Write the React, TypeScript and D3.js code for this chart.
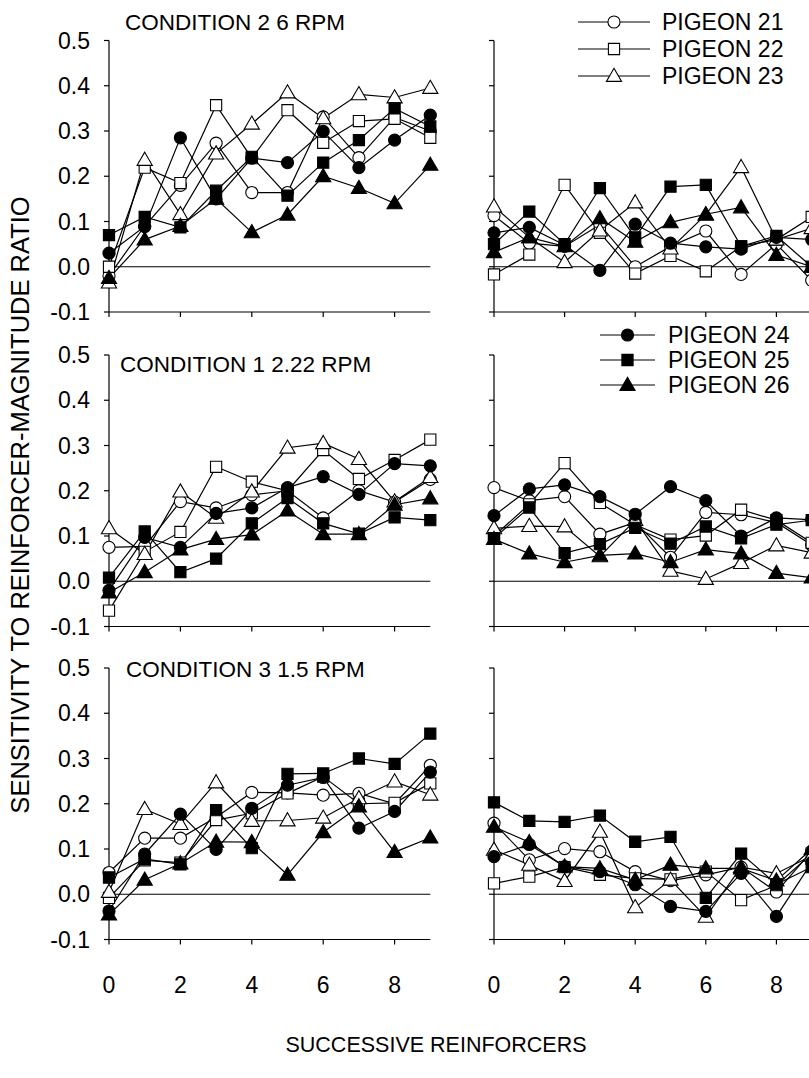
import React from "react";
import * as d3 from "d3";

// ---- data ----
const xValues = [0, 1, 2, 3, 4, 5, 6, 7, 8, 9];
const pigeons = ["PIGEON 21", "PIGEON 22", "PIGEON 23", "PIGEON 24", "PIGEON 25", "PIGEON 26"];
const yTicks = [0.5, 0.4, 0.3, 0.2, 0.1, 0.0, -0.1];
const yTickLabels = ["0.5", "0.4", "0.3", "0.2", "0.1", "0.0", "-0.1"];
const xTicks = [0, 2, 4, 6, 8];
const conditionTitles = ["CONDITION 2 6 RPM", "CONDITION 1 2.22 RPM", "CONDITION 3 1.5 RPM"];

// Condition 2 (6 RPM)
const c2Left = [
  [-0.02, 0.09, 0.18, 0.273, 0.164, 0.164, 0.331, 0.241, 0.33, 0.30],
  [0.0, 0.219, 0.185, 0.357, 0.24, 0.346, 0.274, 0.322, 0.327, 0.285],
  [-0.035, 0.236, 0.116, 0.25, 0.316, 0.385, 0.328, 0.381, 0.374, 0.395],
  [0.03, 0.089, 0.285, 0.15, 0.24, 0.23, 0.299, 0.219, 0.28, 0.335],
  [0.07, 0.11, 0.087, 0.168, 0.243, 0.157, 0.23, 0.28, 0.35, 0.31],
  [-0.025, 0.06, 0.09, 0.15, 0.076, 0.115, 0.2, 0.174, 0.14, 0.225],
];
const c2Right = [
  [0.113, 0.052, 0.045, 0.093, 0.0, 0.045, 0.079, -0.017, 0.05, -0.03],
  [-0.017, 0.027, 0.181, 0.075, -0.015, 0.024, -0.01, 0.045, 0.06, 0.11],
  [0.133, 0.065, 0.01, 0.08, 0.142, 0.04, 0.115, 0.22, 0.06, 0.085],
  [0.075, 0.087, 0.048, -0.008, 0.094, 0.052, 0.044, 0.039, 0.065, 0.06],
  [0.05, 0.122, 0.05, 0.174, 0.065, 0.177, 0.181, 0.045, 0.068, 0.0],
  [0.032, 0.065, 0.045, 0.107, 0.055, 0.098, 0.116, 0.131, 0.026, 0.0],
];
// Condition 1 (2.22 RPM)
const c1Left = [
  [0.075, 0.077, 0.176, 0.162, 0.191, 0.2, 0.14, 0.2, 0.175, 0.225],
  [-0.065, 0.065, 0.109, 0.253, 0.22, 0.2, 0.29, 0.226, 0.268, 0.313],
  [0.117, 0.06, 0.198, 0.14, 0.198, 0.295, 0.305, 0.27, 0.176, 0.23],
  [-0.02, 0.097, 0.075, 0.15, 0.162, 0.207, 0.231, 0.192, 0.26, 0.255],
  [0.008, 0.11, 0.02, 0.05, 0.128, 0.184, 0.128, 0.105, 0.141, 0.135],
  [-0.025, 0.02, 0.07, 0.093, 0.103, 0.156, 0.104, 0.104, 0.169, 0.183],
];
const c1Right = [
  [0.207, 0.178, 0.187, 0.104, 0.13, 0.053, 0.152, 0.147, 0.13, 0.08],
  [0.1, 0.17, 0.261, 0.173, 0.125, 0.092, 0.101, 0.158, 0.135, 0.085],
  [0.117, 0.122, 0.121, 0.055, 0.135, 0.023, 0.005, 0.04, 0.079, 0.063],
  [0.145, 0.204, 0.213, 0.187, 0.148, 0.209, 0.178, 0.1, 0.14, 0.136],
  [0.095, 0.163, 0.062, 0.082, 0.118, 0.083, 0.121, 0.095, 0.125, 0.135],
  [0.093, 0.061, 0.042, 0.057, 0.061, 0.042, 0.07, 0.061, 0.018, 0.008],
];
// Condition 3 (1.5 RPM)
const c3Left = [
  [0.048, 0.124, 0.124, 0.17, 0.225, 0.224, 0.219, 0.223, 0.2, 0.285],
  [-0.008, 0.075, 0.07, 0.164, 0.179, 0.223, 0.26, 0.2, 0.202, 0.245],
  [0.005, 0.188, 0.155, 0.247, 0.162, 0.163, 0.169, 0.212, 0.249, 0.22],
  [-0.037, 0.089, 0.177, 0.099, 0.19, 0.241, 0.258, 0.146, 0.183, 0.27],
  [0.037, 0.078, 0.066, 0.186, 0.102, 0.266, 0.267, 0.3, 0.288, 0.355],
  [-0.045, 0.032, 0.068, 0.116, 0.115, 0.043, 0.137, 0.194, 0.093, 0.125],
];
const c3Right = [
  [0.157, 0.076, 0.101, 0.094, 0.05, 0.03, 0.043, 0.06, 0.005, 0.095],
  [0.024, 0.039, 0.06, 0.043, 0.035, 0.033, 0.05, -0.013, 0.02, 0.09],
  [0.098, 0.065, 0.029, 0.138, -0.029, 0.032, -0.05, 0.06, 0.046, 0.085],
  [0.083, 0.11, 0.061, 0.05, 0.021, -0.027, -0.038, 0.046, -0.049, 0.07],
  [0.203, 0.162, 0.16, 0.174, 0.116, 0.127, -0.008, 0.09, 0.022, 0.06],
  [0.149, 0.115, 0.061, 0.057, 0.032, 0.065, 0.057, 0.057, 0.03, 0.1],
];

// ---- layout ----
const W = 809;
const H = 1078;
const FONT = "'Liberation Sans', Arial, Helvetica, sans-serif";
const FS_TICK = 23;
const FS_TITLE = 22.5;
const FS_LEGEND = 23;
const colX = [109, 494];
const colUnit = [35.7, 35.3];
const rowTop = [40.5, 355, 668];
const PANEL_H = 271.5;

const rows = [
  { left: c2Left, right: c2Right },
  { left: c1Left, right: c1Right },
  { left: c3Left, right: c3Right },
];
const titlePos = [
  { x: 125, y: 22 },
  { x: 120, y: 364 },
  { x: 126, y: 669 },
];

const markerShapes = [d3.symbolCircle, d3.symbolSquare, d3.symbolTriangle, d3.symbolCircle, d3.symbolSquare, d3.symbolTriangle];
const markerSizes = [115, 125, 100, 115, 125, 100];
const markerFilled = [false, false, false, true, true, true];

function Marker({ i, x, y }: { i: number; x: number; y: number }) {
  const p = d3.symbol().type(markerShapes[i]).size(markerSizes[i])() as string;
  const dy = markerShapes[i] === d3.symbolTriangle ? 1 : 0;
  return (
    <path
      d={p}
      transform={`translate(${x},${y + dy})`}
      fill={markerFilled[i] ? "#000" : "#fff"}
      stroke="#000"
      strokeWidth={1.1}
    />
  );
}

function Panel({ data, col, row }: { data: number[][]; col: number; row: number }) {
  const x0 = colX[col];
  const top = rowTop[row];
  const xs = d3.scaleLinear().domain([0, 9]).range([x0, x0 + 9 * colUnit[col]]);
  const ys = d3.scaleLinear().domain([-0.1, 0.5]).range([top + PANEL_H, top]);
  const line = d3
    .line<number>()
    .x((_, j) => xs(xValues[j]))
    .y((d) => ys(d));
  const xEnd = xs(9);
  return (
    <g>
      <line x1={x0} x2={x0} y1={ys(0.5)} y2={ys(-0.1)} stroke="#000" strokeWidth={1.2} />
      {yTicks.map((t, k) => (
        <g key={k}>
          <line x1={x0 - 5} x2={x0} y1={ys(t)} y2={ys(t)} stroke="#000" strokeWidth={1.2} />
          {col === 0 && (
            <text x={x0 - 19} y={ys(t)} textAnchor="end" dominantBaseline="central" fontSize={FS_TICK} fontFamily={FONT}>
              {yTickLabels[k]}
            </text>
          )}
        </g>
      ))}
      <line x1={x0} x2={xEnd} y1={ys(-0.1)} y2={ys(-0.1)} stroke="#000" strokeWidth={1.2} />
      {xTicks.map((t) => (
        <line key={t} x1={xs(t)} x2={xs(t)} y1={ys(-0.1)} y2={ys(-0.1) + 5} stroke="#000" strokeWidth={1.2} />
      ))}
      {row === 2 &&
        xTicks.map((t) => (
          <text key={"l" + t} x={xs(t)} y={ys(-0.1) + 45} textAnchor="middle" dominantBaseline="central" fontSize={FS_TICK} fontFamily={FONT}>
            {t}
          </text>
        ))}
      <line x1={x0} x2={xEnd} y1={ys(0)} y2={ys(0)} stroke="#000" strokeWidth={1.2} />
      {data.map((s, i) => (
        <path key={"p" + i} d={line(s) as string} fill="none" stroke="#000" strokeWidth={1.2} />
      ))}
      {data.map((s, i) =>
        s.map((v, j) => <Marker key={i + "-" + j} i={i} x={xs(xValues[j])} y={ys(v)} />)
      )}
    </g>
  );
}

function Legend({ x1, x2, tx, ys, start }: { x1: number; x2: number; tx: number; ys: number[]; start: number }) {
  return (
    <g>
      {ys.map((y, k) => {
        const i = start + k;
        return (
          <g key={i}>
            <line x1={x1} x2={x2} y1={y} y2={y} stroke="#000" strokeWidth={1.2} />
            <Marker i={i} x={(x1 + x2) / 2} y={y} />
            <text x={tx} y={y} dominantBaseline="central" fontSize={FS_LEGEND} fontFamily={FONT}>
              {pigeons[i]}
            </text>
          </g>
        );
      })}
    </g>
  );
}

export default function App() {
  return (
    <div style={{ position: "absolute", left: 0, top: 0 }}>
      <svg width={W} height={H} viewBox={`0 0 ${W} ${H}`} style={{ display: "block", background: "#fff" }}>
        <rect width={W} height={H} fill="#fff" />
        {rows.map((r, k) => (
          <g key={k}>
            <Panel data={r.left} col={0} row={k} />
            <Panel data={r.right} col={1} row={k} />
            <text x={titlePos[k].x} y={titlePos[k].y} dominantBaseline="central" fontSize={FS_TITLE} fontFamily={FONT}>
              {conditionTitles[k]}
            </text>
          </g>
        ))}
        <Legend x1={578} x2={650} tx={662} ys={[22, 49, 76]} start={0} />
        <Legend x1={600} x2={655} tx={668} ys={[335, 360, 385]} start={3} />
        <text
          transform={`translate(20,505) rotate(-90)`}
          textAnchor="middle"
          dominantBaseline="central"
          fontSize={25.5}
          fontFamily={FONT}
        >
          SENSITIVITY TO REINFORCER-MAGNITUDE RATIO
        </text>
        <text x={436} y={1045} textAnchor="middle" dominantBaseline="central" fontSize={21.5} fontFamily={FONT}>
          SUCCESSIVE REINFORCERS
        </text>
      </svg>
    </div>
  );
}
